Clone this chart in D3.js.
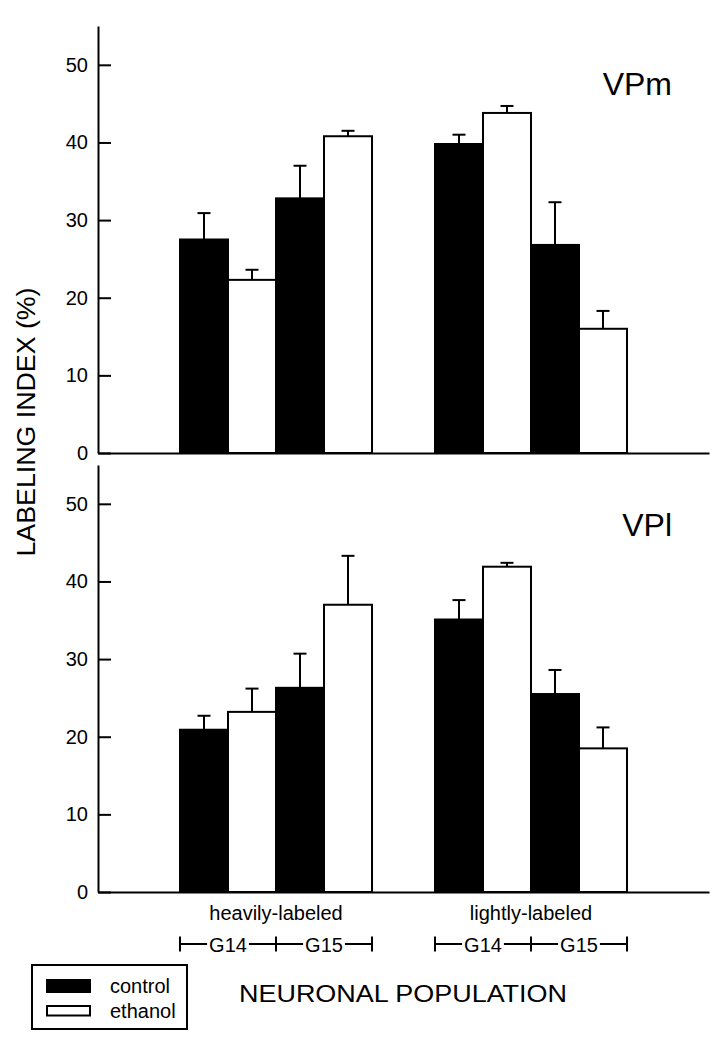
<!DOCTYPE html>
<html>
<head>
<meta charset="utf-8">
<script src="https://cdn.jsdelivr.net/npm/d3@7"></script>
<style>
  html, body { margin: 0; padding: 0; background: #fff; }
  svg { display: block; }
  text { font-family: "Liberation Sans", Arial, Helvetica, sans-serif; fill: #000; }
</style>
</head>
<body>
<svg id="chart" width="725" height="1050"></svg>
<script>
// ---- data ----
const groups = ["heavily-labeled", "lightly-labeled"];
const ages = ["G14", "G15"];
const treatments = ["control", "ethanol"];
const panels = ["VPm", "VPl"];
// order within each group: G14 control, G14 ethanol, G15 control, G15 ethanol
const vpmMeans = [27.5, 22.3, 32.8, 40.8, 39.8, 43.8, 26.8, 16.0];
const vpmSem   = [3.4, 1.3, 4.2, 0.7, 1.2, 0.9, 5.5, 2.3];
const vplMeans = [20.9, 23.2, 26.3, 37.0, 35.1, 41.9, 25.5, 18.5];
const vplSem   = [1.8, 3.0, 4.4, 6.3, 2.5, 0.5, 3.1, 2.7];
const yTicks = [0, 10, 20, 30, 40, 50];
const yTitle = "LABELING INDEX (%)";
const xTitle = "NEURONAL POPULATION";

// ---- layout ----
const svg = d3.select("#chart");
const axisX0 = 98, axisX1 = 709;
const panelRanges = [[453, 26], [892, 465]];
const fills = { control: "#000", ethanol: "#fff" };

const xGroup = d3.scaleBand().domain(groups).range([axisX0, axisX1])
  .paddingInner(0.247).paddingOuter(0.3216);
const barKeys = [];
ages.forEach(a => treatments.forEach(t => barKeys.push(a + "|" + t)));
const xBar = d3.scaleBand().domain(barKeys).range([0, xGroup.bandwidth()]).padding(0);
const xAge = d3.scaleBand().domain(ages).range([0, xGroup.bandwidth()]).padding(0);

function buildRows(means, sems) {
  const rows = [];
  let i = 0;
  groups.forEach(g => ages.forEach(a => treatments.forEach(t => {
    rows.push({ group: g, age: a, treat: t, key: a + "|" + t, mean: means[i], sem: sems[i] });
    i++;
  })));
  return rows;
}
const panelData = [buildRows(vpmMeans, vpmSem), buildRows(vplMeans, vplSem)];

panels.forEach((name, pi) => {
  const y = d3.scaleLinear().domain([0, 55]).range(panelRanges[pi]);
  const g = svg.append("g");
  const rows = panelData[pi];

  // bars
  g.selectAll("rect.bar").data(rows).join("rect")
    .attr("class", "bar")
    .attr("x", d => xGroup(d.group) + xBar(d.key))
    .attr("y", d => y(d.mean))
    .attr("width", xBar.bandwidth())
    .attr("height", d => y(0) - y(d.mean))
    .attr("fill", d => fills[d.treat])
    .attr("stroke", "#000")
    .attr("stroke-width", 2);

  // error bars
  const cx = d => xGroup(d.group) + xBar(d.key) + xBar.bandwidth() / 2;
  g.selectAll("line.err").data(rows).join("line")
    .attr("class", "err")
    .attr("x1", cx).attr("x2", cx)
    .attr("y1", d => y(d.mean)).attr("y2", d => y(d.mean + d.sem))
    .attr("stroke", "#000").attr("stroke-width", 2);
  g.selectAll("line.cap").data(rows).join("line")
    .attr("class", "cap")
    .attr("x1", d => cx(d) - 6.5).attr("x2", d => cx(d) + 6.5)
    .attr("y1", d => y(d.mean + d.sem)).attr("y2", d => y(d.mean + d.sem))
    .attr("stroke", "#000").attr("stroke-width", 2);

  // y axis
  const ay = g.append("g").attr("transform", `translate(${axisX0},0)`)
    .call(d3.axisLeft(y).tickValues(yTicks).tickSizeInner(-13).tickSizeOuter(0).tickPadding(10));
  ay.selectAll("path, line").attr("stroke", "#000").attr("stroke-width", 2);
  ay.selectAll("text").attr("font-size", 20).attr("font-family", "Liberation Sans, Arial, sans-serif").attr("fill", "#000");

  // x axis baseline
  const ax = g.append("g").attr("transform", `translate(0,${y(0)})`)
    .call(d3.axisBottom(xGroup).tickSize(0).tickSizeOuter(0).tickFormat(""));
  ax.select(".domain").attr("stroke", "#000").attr("stroke-width", 2);

  // panel label
  g.append("text")
    .attr("x", 672).attr("y", pi === 0 ? 95 : 536)
    .attr("text-anchor", "end").attr("font-size", 32)
    .text(name);
});

// group labels
svg.selectAll("text.grp").data(groups).join("text")
  .attr("class", "grp")
  .attr("x", d => xGroup(d) + xGroup.bandwidth() / 2)
  .attr("y", 920)
  .attr("text-anchor", "middle").attr("font-size", 20)
  .text(d => d);

// age brackets
const brY = 944;
groups.forEach(gname => {
  const gx = xGroup(gname);
  const bg = svg.append("g");
  // ticks at group edges and center
  [0, xAge.bandwidth(), xGroup.bandwidth()].forEach(off => {
    bg.append("line").attr("x1", gx + off).attr("x2", gx + off)
      .attr("y1", brY - 7.5).attr("y2", brY + 7.5)
      .attr("stroke", "#000").attr("stroke-width", 2);
  });
  ages.forEach(a => {
    const left = gx + xAge(a), right = left + xAge.bandwidth();
    const mid = (left + right) / 2;
    const t = bg.append("text").attr("x", mid).attr("y", 951.5)
      .attr("text-anchor", "middle").attr("font-size", 20).text(a);
    const w = t.node().getComputedTextLength();
    bg.append("line").attr("x1", left).attr("x2", mid - w / 2 - 2)
      .attr("y1", brY).attr("y2", brY).attr("stroke", "#000").attr("stroke-width", 2);
    bg.append("line").attr("x1", mid + w / 2 + 2).attr("x2", right)
      .attr("y1", brY).attr("y2", brY).attr("stroke", "#000").attr("stroke-width", 2);
  });
});

// axis titles
svg.append("text")
  .attr("transform", "translate(35,422) rotate(-90)")
  .attr("text-anchor", "middle").attr("font-size", 25)
  .attr("textLength", 269).attr("lengthAdjust", "spacingAndGlyphs")
  .text(yTitle);

svg.append("text")
  .attr("x", 239).attr("y", 1002)
  .attr("font-size", 24)
  .attr("textLength", 328).attr("lengthAdjust", "spacingAndGlyphs")
  .text(xTitle);

// legend
const lg = svg.append("g");
lg.append("rect").attr("x", 32).attr("y", 965).attr("width", 155).attr("height", 64)
  .attr("fill", "#fff").attr("stroke", "#000").attr("stroke-width", 2);
const legRows = [{ t: "control", sy: 980, sh: 12, ty: 992.5 }, { t: "ethanol", sy: 1006, sh: 9.5, ty: 1018 }];
legRows.forEach((r, i) => {
  lg.append("rect").attr("x", 47).attr("y", r.sy).attr("width", 43).attr("height", r.sh)
    .attr("fill", fills[treatments[i]]).attr("stroke", "#000").attr("stroke-width", 2);
  lg.append("text").attr("x", 110).attr("y", r.ty).attr("font-size", 20).text(treatments[i]);
});
</script>
</body>
</html>
